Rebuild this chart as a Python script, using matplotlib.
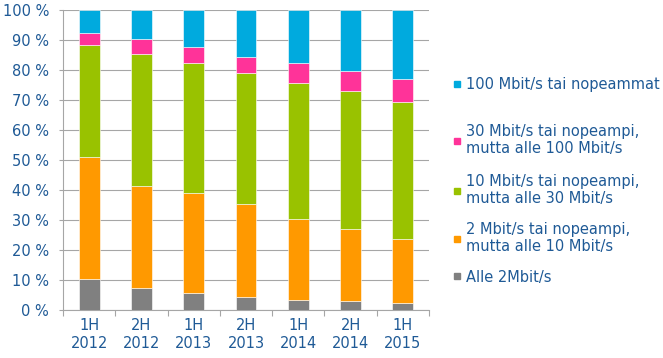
import numpy as np
import matplotlib
matplotlib.use("Agg")
import matplotlib.pyplot as plt
from matplotlib.lines import Line2D

periods = ["1H\n2012", "2H\n2012", "1H\n2013", "2H\n2013", "1H\n2014", "2H\n2014", "1H\n2015"]

below_2 = [10.3, 7.2, 5.7, 4.2, 3.3, 3.1, 2.5]
from_2_to_10 = [40.8, 34.3, 33.2, 31.3, 26.9, 23.9, 21.2]
from_10_to_30 = [37.1, 43.9, 43.6, 43.5, 45.5, 45.9, 45.6]
from_30_to_100 = [4.3, 4.9, 5.1, 5.4, 6.5, 6.8, 7.7]
over_100 = [7.5, 9.7, 12.4, 15.6, 17.8, 20.3, 23.0]

labels = [
    "Alle 2Mbit/s",
    "2 Mbit/s tai nopeampi,\nmutta alle 10 Mbit/s",
    "10 Mbit/s tai nopeampi,\nmutta alle 30 Mbit/s",
    "30 Mbit/s tai nopeampi,\nmutta alle 100 Mbit/s",
    "100 Mbit/s tai nopeammat",
]
colors = ["#808080", "#FF9900", "#99C200", "#FF3399", "#00AADE"]
TXT = "#1F5A96"

series = [below_2, from_2_to_10, from_10_to_30, from_30_to_100, over_100]

fig = plt.figure(figsize=(6.63, 3.58), dpi=100)
ax = fig.add_axes([0.095, 0.134, 0.552, 0.838])

x = np.arange(len(periods))
bottom = np.zeros(len(periods))
for vals, col in zip(series, colors):
    ax.bar(x, vals, width=0.4, bottom=bottom, color=col,
           edgecolor="#FFFFFF", linewidth=0.4, zorder=3)
    bottom += np.array(vals)

ax.set_xlim(-0.5, len(periods) - 0.5)
ax.set_ylim(0, 100)
ax.set_yticks(np.arange(0, 101, 10))
ax.set_yticklabels([f"{v} %" for v in range(0, 101, 10)])
ax.set_xticks(x)
ax.set_xticklabels(periods)
ax.set_xticks(np.arange(-0.5, len(periods), 1), minor=True)

ax.grid(axis="y", color="#A6A6A6", linewidth=0.8, zorder=0)
ax.tick_params(axis="x", which="major", length=0, pad=6, labelsize=10.5, labelcolor=TXT)
ax.tick_params(axis="x", which="minor", length=4, color="#A6A6A6", width=0.8)
ax.tick_params(axis="y", length=3, color="#A6A6A6", width=0.8, pad=7,
               labelsize=10.5, labelcolor=TXT)
for s in ["top", "right"]:
    ax.spines[s].set_visible(False)
for s in ["left", "bottom"]:
    ax.spines[s].set_color("#A6A6A6")
    ax.spines[s].set_linewidth(0.8)

# legend entries placed one by one (blue at top, grey at bottom)
legend_y = [0.226, 0.335, 0.469, 0.609, 0.763]
for col, lab, ly in zip(colors, labels, legend_y):
    h = Line2D([], [], marker="s", linestyle="", markersize=5,
               markerfacecolor=col, markeredgecolor=col)
    leg = fig.legend([h], [lab], loc="center left", bbox_to_anchor=(0.683, ly),
                     frameon=False, fontsize=10.5, handlelength=0.6,
                     handletextpad=0.27, borderpad=0, borderaxespad=0)
    for t in leg.get_texts():
        t.set_color(TXT)

fig.savefig("out.png", dpi=100)
